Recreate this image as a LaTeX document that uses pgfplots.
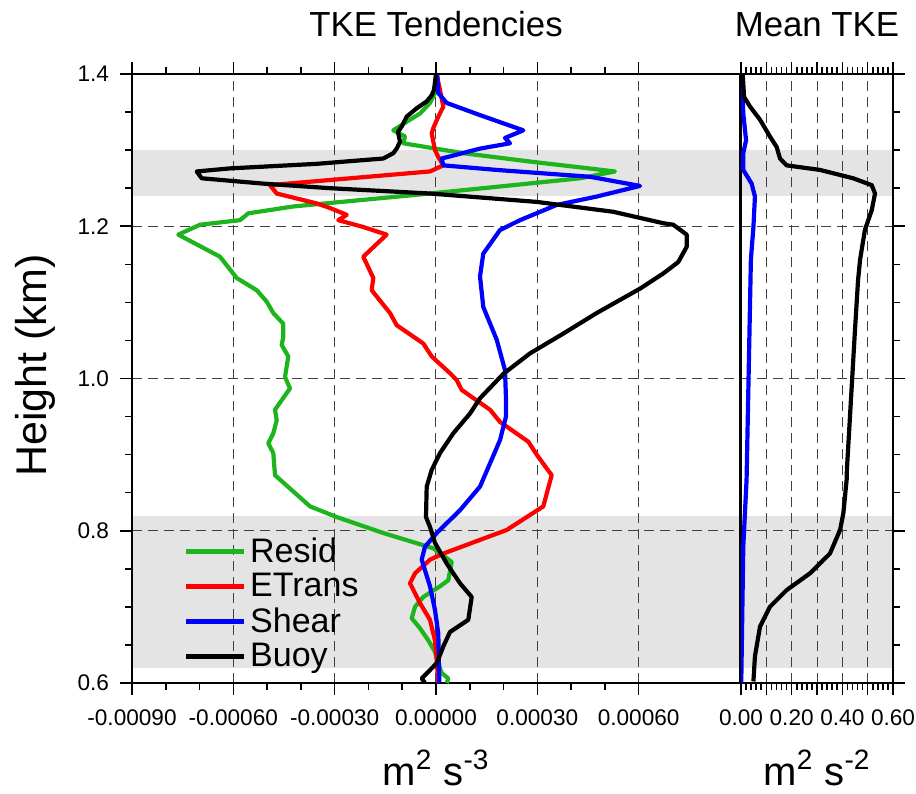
\documentclass[border=0pt]{standalone}
\usepackage{fontspec}
\setmainfont{Liberation Sans}
\usepackage{pgfplots}
\pgfplotsset{compat=1.18}
\definecolor{residgreen}{RGB}{30,180,30}
\definecolor{bandgray}{RGB}{228,228,228}
\begin{document}
\begin{tikzpicture}
\pgfplotsset{
 common/.style={
  set layers,
  scale only axis, height=304.5pt,
  ymin=0.6, ymax=1.4,
  ytick={0.6,0.8,1.0,1.2,1.4},
  minor y tick num=3,
  tick align=outside,
  major tick length=6pt, minor tick length=3.5pt,
  every tick/.style={black, line width=0.8pt},
  axis line style={line width=1.1pt},
  grid=major,
  major grid style={dash pattern=on 5pt off 3pt, black!75, line width=0.5pt},
  tick label style={font=\fontsize{11.3}{13}\selectfont},
  scaled x ticks=false,
  every axis plot/.append style={line width=2.1pt, line join=round},
 },
 band/.style={on layer=axis background, fill=bandgray, draw=none, line width=0pt, forget plot},
}
\begin{axis}[common, at={(0,0)}, anchor=south west, width=304pt,
 xmin=-0.0009, xmax=0.0009,
 xtick={-0.0009,-0.0006,-0.0003,0,0.0003,0.0006},
 xticklabels={-0.00090,-0.00060,-0.00030,0.00000,0.00030,0.00060},
 minor x tick num=2,
 yticklabels={0.6,0.8,1.0,1.2,1.4},
 ytick pos=left, xtick pos=both, xticklabel pos=bottom,
 xticklabel style={yshift=-4pt},
 yticklabel style={xshift=-2pt},
 legend style={draw=none, fill=none, at={(0.075,0.008)}, anchor=south west,
   font=\fontsize{17}{18}\selectfont, row sep=0pt},
 legend cell align=left,
 legend image code/.code={\draw[#1, line width=2.1pt] (0pt,0pt) -- (29pt,0pt);},
]
\addplot[band] coordinates {(-0.0009,1.24) (0.0009,1.24) (0.0009,1.30) (-0.0009,1.30)} -- cycle;
\addplot[band] coordinates {(-0.0009,0.62) (0.0009,0.62) (0.0009,0.82) (-0.0009,0.82)} -- cycle;
\addplot[residgreen] coordinates {
(0.021e-4,1.399) (-0.030e-4,1.375) (-0.178e-4,1.362) (-0.474e-4,1.348) (-0.770e-4,1.340)
(-1.264e-4,1.326) (-0.918e-4,1.318) (-0.968e-4,1.309) (0.808e-4,1.296) (2.783e-4,1.285)
(5.299e-4,1.272) (4.263e-4,1.263) (2.288e-4,1.254) (-0.178e-4,1.243) (-4.225e-4,1.226)
(-5.557e-4,1.217) (-5.803e-4,1.208) (-6.987e-4,1.202) (-7.629e-4,1.189) (-6.395e-4,1.160)
(-5.900e-4,1.132) (-5.308e-4,1.116) (-5.012e-4,1.101) (-4.817e-4,1.086) (-4.521e-4,1.072)
(-4.521e-4,1.055) (-4.568e-4,1.044) (-4.373e-4,1.029) (-4.470e-4,1.002) (-4.322e-4,0.987)
(-4.766e-4,0.959) (-4.716e-4,0.945) (-4.817e-4,0.928) (-4.965e-4,0.915) (-4.817e-4,0.902)
(-4.766e-4,0.873) (-3.730e-4,0.832) (-2.940e-4,0.818) (-1.560e-4,0.797) (-0.080e-4,0.777)
(0.465e-4,0.759) (0.364e-4,0.735) (0.118e-4,0.727) (-0.376e-4,0.713) (-0.622e-4,0.700)
(-0.719e-4,0.685) (-0.474e-4,0.672) (-0.228e-4,0.656) (-0.030e-4,0.641) (0.068e-4,0.626)
(0.169e-4,0.613) (0.364e-4,0.606) (0.317e-4,0.600)
};
\addlegendentry{Resid}
\addplot[red] coordinates {
(0.021e-4,1.399) (0.118e-4,1.379) (0.216e-4,1.357) (0.068e-4,1.344) (-0.080e-4,1.329)
(-0.127e-4,1.322) (-0.030e-4,1.300) (0.068e-4,1.291) (0.216e-4,1.280) (-0.178e-4,1.272)
(-4.914e-4,1.254) (-4.716e-4,1.243) (-3.532e-4,1.230) (-3.138e-4,1.224)
(-2.644e-4,1.215) (-2.892e-4,1.208) (-2.152e-4,1.199) (-1.460e-4,1.189) (-2.152e-4,1.160)
(-1.856e-4,1.132) (-1.904e-4,1.116) (-1.362e-4,1.086) (-1.163e-4,1.070) (-0.376e-4,1.046)
(-0.127e-4,1.029) (0.414e-4,1.007) (0.613e-4,0.998) (0.761e-4,0.985) (1.599e-4,0.959)
(1.895e-4,0.943) (2.733e-4,0.917) (2.981e-4,0.900) (3.425e-4,0.873) (3.177e-4,0.832)
(2.093e-4,0.801) (1.303e-4,0.788) (0.216e-4,0.770) (-0.178e-4,0.762) (-0.622e-4,0.744)
(-0.770e-4,0.731) (-0.474e-4,0.705) (-0.178e-4,0.683) (-0.030e-4,0.656) (0.021e-4,0.630)
(0.068e-4,0.600)
};
\addlegendentry{ETrans}
\addplot[blue] coordinates {
(0.038e-4,1.399) (0.068e-4,1.375) (0.317e-4,1.362) (1.303e-4,1.346) (2.585e-4,1.326)
(2.043e-4,1.316) (2.191e-4,1.309) (1.303e-4,1.302) (0.169e-4,1.289) (0.216e-4,1.280)
(1.797e-4,1.274) (4.559e-4,1.265) (6.039e-4,1.253) (4.757e-4,1.239) (3.573e-4,1.228)
(2.487e-4,1.208) (1.895e-4,1.195) (1.400e-4,1.164) (1.303e-4,1.134) (1.400e-4,1.094)
(1.797e-4,1.051) (2.043e-4,1.011) (2.072e-4,0.974) (2.072e-4,0.950) (1.895e-4,0.919)
(1.303e-4,0.858) (0.711e-4,0.827) (0.021e-4,0.797) (-0.326e-4,0.779) (-0.423e-4,0.762)
(-0.178e-4,0.727) (-0.030e-4,0.696) (0.068e-4,0.665) (0.098e-4,0.600)
};
\addlegendentry{Shear}
\addplot[black] coordinates {
(0,1.400) (-0.059e-4,1.379) (-0.127e-4,1.372) (-0.275e-4,1.364) (-0.571e-4,1.355)
(-0.867e-4,1.344) (-1.015e-4,1.331) (-1.125e-4,1.324) (-1.066e-4,1.311) (-1.163e-4,1.302)
(-1.264e-4,1.296) (-1.560e-4,1.289) (-3.532e-4,1.282) (-6.099e-4,1.276) (-7.085e-4,1.272)
(-6.936e-4,1.263) (-5.113e-4,1.256) (-3.138e-4,1.250) (-0.178e-4,1.243) (2.981e-4,1.232)
(5.249e-4,1.219) (6.729e-4,1.204) (7.025e-4,1.202) (7.422e-4,1.189) (7.422e-4,1.173)
(7.173e-4,1.153) (6.729e-4,1.138) (6.039e-4,1.118) (4.757e-4,1.086) (3.769e-4,1.059)
(2.783e-4,1.033) (1.992e-4,1.006) (1.303e-4,0.974) (1.007e-4,0.954) (0.512e-4,0.928)
(0.118e-4,0.902) (-0.127e-4,0.880) (-0.275e-4,0.858) (-0.296e-4,0.818) (-0.178e-4,0.805)
(-0.030e-4,0.784) (0.317e-4,0.757) (0.711e-4,0.731) (1.057e-4,0.713) (0.956e-4,0.683)
(0.414e-4,0.667) (0.216e-4,0.648) (0.021e-4,0.626) (-0.178e-4,0.617) (-0.423e-4,0.606)
(-0.326e-4,0.600)
};
\addlegendentry{Buoy}
\end{axis}
\begin{axis}[common, at={(304.5pt,0)}, anchor=south west, width=76pt,
 xmin=0, xmax=0.6,
 xtick={0,0.1,0.2,0.3,0.4,0.5,0.6},
 xticklabels={0.00,,0.20,,0.40,,0.60},
 minor x tick num=4,
 yticklabels={}, ytick pos=right, xtick pos=both, xticklabel pos=bottom,
 xticklabel style={yshift=-4pt},
]
\addplot[band] coordinates {(0,1.24) (0.6,1.24) (0.6,1.30) (0,1.30)} -- cycle;
\addplot[band] coordinates {(0,0.62) (0.6,0.62) (0.6,0.82) (0,0.82)} -- cycle;
\addplot[blue] coordinates {
(0.003,1.399) (0.009,1.348) (0.020,1.313) (0.009,1.296) (0.009,1.274) (0.042,1.256)
(0.055,1.239) (0.049,1.199) (0.039,1.156) (0.022,0.867) (0.009,0.779) (0.001,0.600)
};
\addplot[black] coordinates {
(0.007,1.399) (0.012,1.370) (0.036,1.357) (0.075,1.340) (0.114,1.318) (0.141,1.304)
(0.154,1.289) (0.180,1.280) (0.312,1.274) (0.443,1.263) (0.516,1.254) (0.529,1.243)
(0.516,1.221) (0.489,1.195) (0.470,1.156) (0.462,1.129) (0.450,1.064) (0.434,0.972)
(0.418,0.880) (0.417,0.867) (0.404,0.823) (0.391,0.801) (0.351,0.770) (0.272,0.744)
(0.180,0.722) (0.114,0.700) (0.075,0.674) (0.055,0.635) (0.049,0.602)
};
\end{axis}
\node[anchor=base, font=\fontsize{17.4}{20}\selectfont] at (152pt,323pt) {TKE Tendencies};
\node[anchor=base, font=\fontsize{17.4}{20}\selectfont] at (342.5pt,323pt) {Mean TKE};
\node[anchor=base, font=\fontsize{20}{24}\selectfont] at (152pt,-51pt) {m\textsuperscript{2} s\textsuperscript{-3}};
\node[anchor=base, font=\fontsize{20}{24}\selectfont] at (342.5pt,-51pt) {m\textsuperscript{2} s\textsuperscript{-2}};
\node[rotate=90, font=\fontsize{21.5}{24}\selectfont] at (-48.5pt,158.75pt) {Height (km)};
\pgfresetboundingbox
\useasboundingbox (-66pt,-55pt) rectangle (392pt,341.5pt);
\end{tikzpicture}
\end{document}
